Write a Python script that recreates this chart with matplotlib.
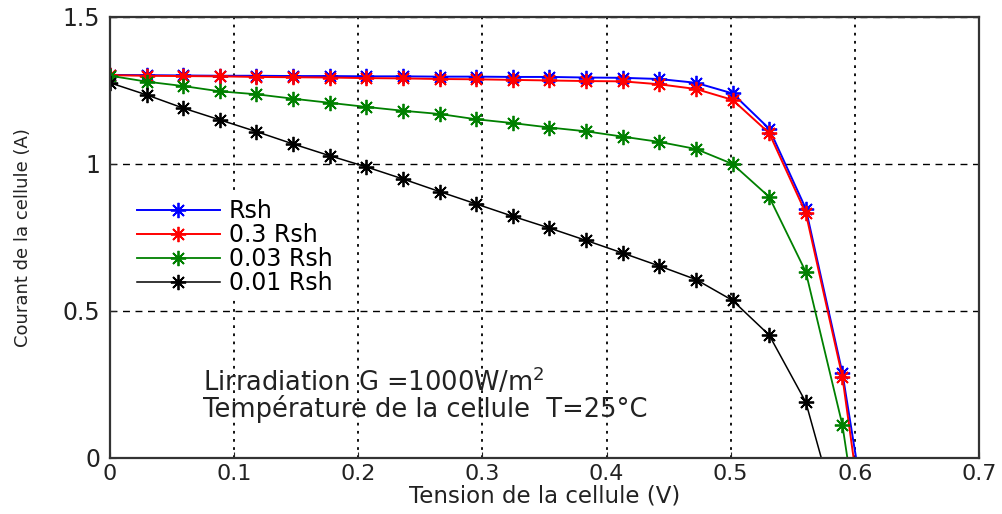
import matplotlib
matplotlib.use("Agg")
import matplotlib.pyplot as plt

# tension (V) aux points mesures
v = [0.0, 0.0295, 0.059, 0.0885, 0.118, 0.1475, 0.177, 0.2065, 0.236, 0.2655,
     0.295, 0.3245, 0.354, 0.3835, 0.413, 0.4425, 0.472, 0.5015, 0.531, 0.5605, 0.59]

# courant (A) pour chaque resistance shunt
i_rsh = [1.303, 1.302, 1.301, 1.300, 1.300, 1.299, 1.299, 1.298, 1.298, 1.297, 1.297,
         1.296, 1.296, 1.294, 1.293, 1.289, 1.276, 1.240, 1.120, 0.848, 0.289]
i_03 = [1.302, 1.300, 1.299, 1.298, 1.296, 1.295, 1.294, 1.292, 1.291, 1.289, 1.288,
        1.286, 1.284, 1.282, 1.281, 1.271, 1.255, 1.218, 1.105, 0.833, 0.276]
i_003 = [1.300, 1.280, 1.265, 1.247, 1.237, 1.222, 1.208, 1.194, 1.181, 1.170, 1.152,
         1.139, 1.124, 1.111, 1.093, 1.075, 1.051, 1.000, 0.888, 0.633, 0.112]
i_001 = [1.276, 1.235, 1.190, 1.150, 1.110, 1.068, 1.028, 0.990, 0.949, 0.906, 0.864,
         0.822, 0.782, 0.740, 0.697, 0.653, 0.607, 0.536, 0.418, 0.190]

# tension de circuit ouvert (I = 0)
voc = [0.601, 0.599, 0.594, 0.573]
noms = ['Rsh', '0.3 Rsh', '0.03 Rsh', '0.01 Rsh']
couleurs = ['#0000ff', '#ff0000', '#008000', '#000000']
largeurs = [1.4, 1.4, 1.3, 1.1]

fig = plt.figure(figsize=(10.02, 5.14), dpi=100)
ax = fig.add_axes([0.1098, 0.109, 0.8672, 0.858])

star = (8, 2, 0)
for courant, vo, nom, c, lw in zip([i_rsh, i_03, i_003, i_001], voc, noms, couleurs, largeurs):
    n = len(courant)
    ax.plot(v[:n] + [vo], courant + [0.0], color=c, lw=lw, marker=star,
            markersize=11, markeredgewidth=1.3, markevery=slice(0, n), label=nom)

ax.set_xlim(0, 0.7)
ax.set_ylim(0, 1.5)
ax.set_xticks([0, 0.1, 0.2, 0.3, 0.4, 0.5, 0.6, 0.7])
ax.set_xticklabels(['0', '0.1', '0.2', '0.3', '0.4', '0.5', '0.6', '0.7'])
ax.set_yticks([0, 0.5, 1, 1.5])
ax.set_yticklabels(['0', '0.5', '1', '1.5'])
ax.tick_params(direction='in', labelsize=17, colors='#222222', length=4)
ax.tick_params(axis='x', pad=4, labelsize=16)
ax.tick_params(axis='y', pad=7)

ax.xaxis.grid(True, linestyle=(0, (1.5, 3)), color='black', lw=1.3)
ax.yaxis.grid(True, linestyle=(0, (5, 4)), color='black', lw=1.0)

for s in ax.spines.values():
    s.set_linewidth(1.6)
    s.set_color('#333333')

ax.set_xlabel('Tension de la cellule (V)', fontsize=16.5, color='#222222', labelpad=1)
ax.set_ylabel('Courant de la cellule (A)', fontsize=13, color='#222222', labelpad=22)

leg = ax.legend(loc='upper left', bbox_to_anchor=(0.012, 0.625), fontsize=17,
                handlelength=3.5, handletextpad=0.4, labelspacing=0.0,
                frameon=True, borderpad=0.2)
leg.get_frame().set_facecolor('white')
leg.get_frame().set_edgecolor('none')
leg.get_frame().set_alpha(1)

ax.text(0.075, 0.312, 'Lirradiation G =1000W/m$^{2}$\nTempérature de la cellule  T=25°C',
        fontsize=18.5, va='top', ha='left', color='#222222', linespacing=0.9)

fig.savefig('out.png', dpi=100)
